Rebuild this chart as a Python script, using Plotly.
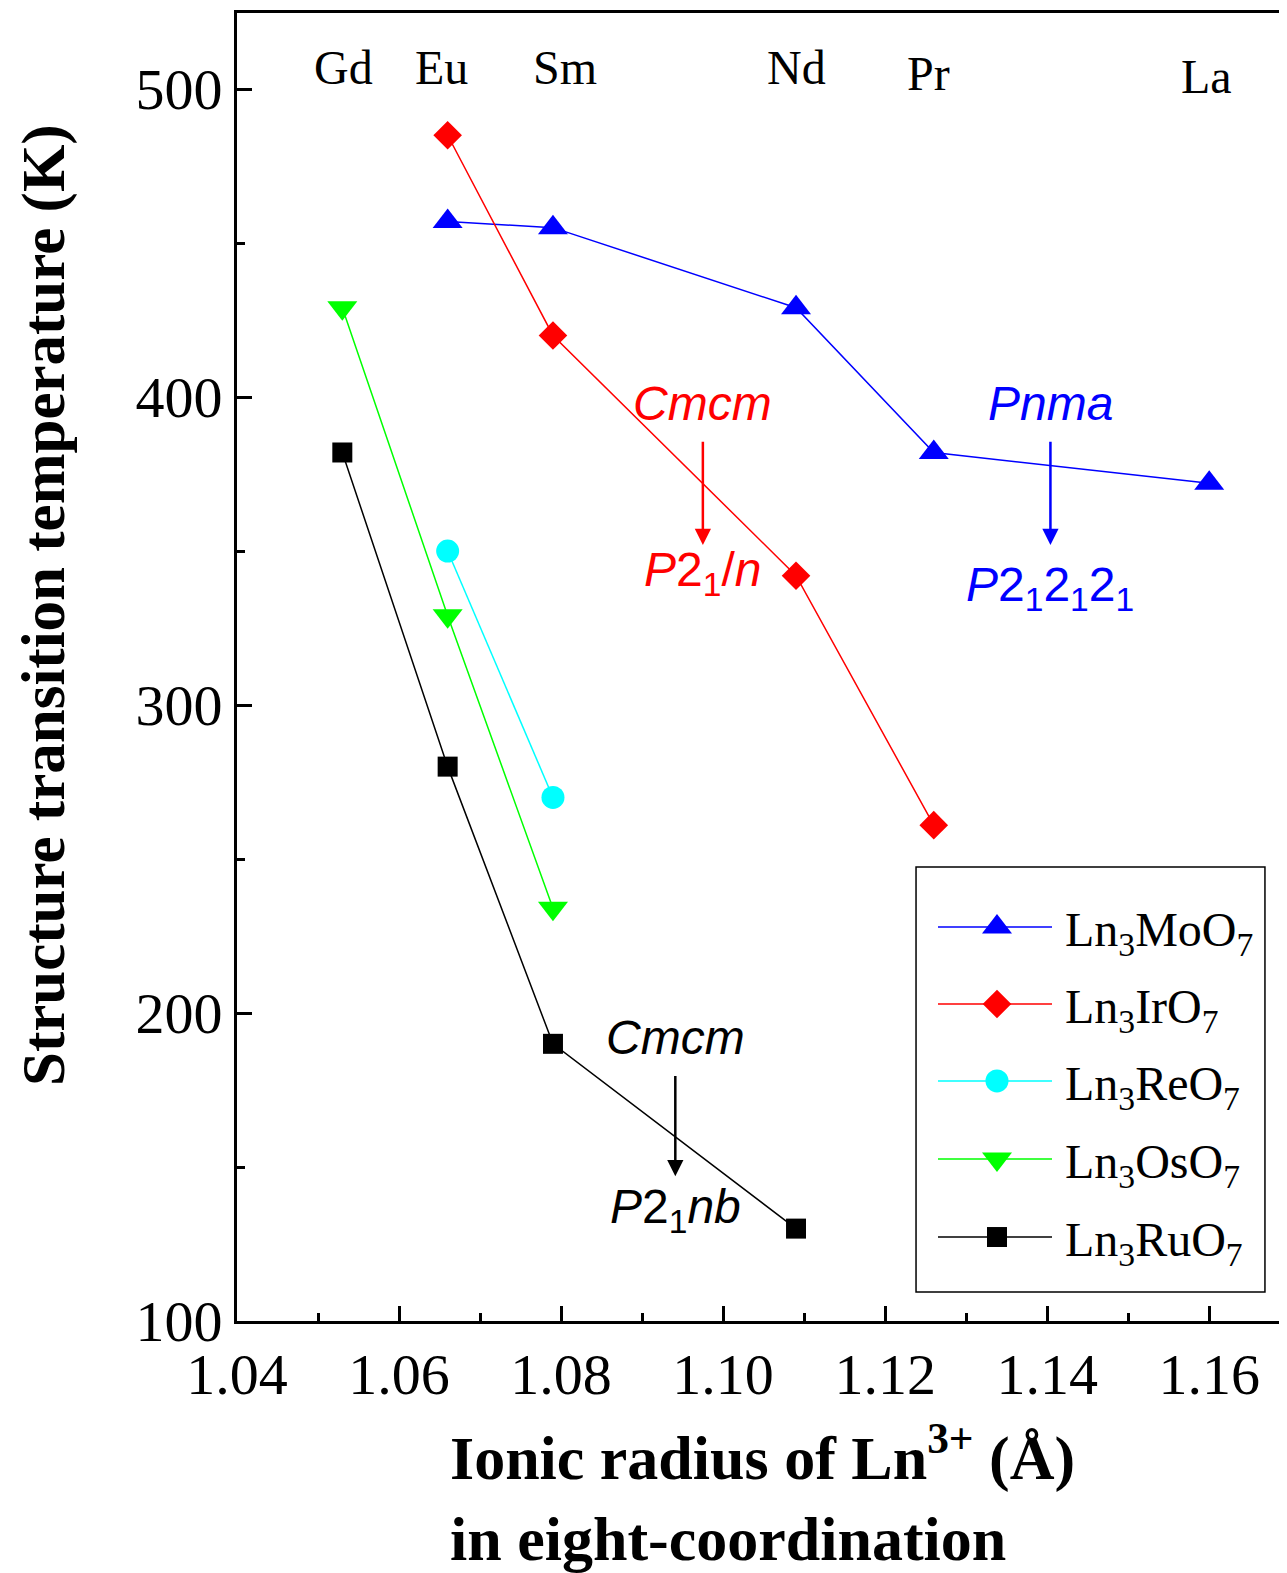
import plotly.graph_objects as go

# ---- data ----
ln_labels = ["Gd", "Eu", "Sm", "Nd", "Pr", "La"]
ln_label_x = [1.0532, 1.0653, 1.0805, 1.1091, 1.1253, 1.1597]
ln_label_y = [507, 507, 507, 507, 505, 504]

mo_x = [1.066, 1.079, 1.109, 1.126, 1.160]
mo_y = [457, 455, 429, 382, 372]

ir_x = [1.066, 1.079, 1.109, 1.126]
ir_y = [485, 420, 342, 261]

re_x = [1.066, 1.079]
re_y = [350, 270]

os_x = [1.053, 1.066, 1.079]
os_y = [429, 329, 234]

ru_x = [1.053, 1.066, 1.079, 1.109]
ru_y = [382, 280, 190, 130]

series_names = ["Ln<sub>3</sub>MoO<sub>7</sub>", "Ln<sub>3</sub>IrO<sub>7</sub>",
                "Ln<sub>3</sub>ReO<sub>7</sub>", "Ln<sub>3</sub>OsO<sub>7</sub>",
                "Ln<sub>3</sub>RuO<sub>7</sub>"]
series_x = [mo_x, ir_x, re_x, os_x, ru_x]
series_y = [mo_y, ir_y, re_y, os_y, ru_y]
series_colors = ["#0000FF", "#FF0000", "#00FFFF", "#00FF00", "#000000"]
series_symbols = ["triangle-up", "diamond", "circle", "triangle-down", "square"]
series_sizes = [26, 22, 23, 26, 20]

SERIF = "Liberation Serif"
SANS = "Liberation Sans"

fig = go.Figure()
for name, xs, ys, col, sym, sz in zip(series_names, series_x, series_y,
                                      series_colors, series_symbols, series_sizes):
    fig.add_trace(go.Scatter(
        x=xs, y=ys, mode="lines+markers", name=name, showlegend=False,
        line=dict(color=col, width=1.5),
        marker=dict(color=col, symbol=sym, size=sz, line=dict(width=0)),
    ))

# ---- hand-built legend (helper axes with range 0..1) ----
leg_box = dict(x0=0.6467, x1=0.9790, y0=0.0222, y1=0.3471)
leg_rows = [0.3012, 0.2424, 0.1835, 0.1239, 0.0642]
leg_line_x0, leg_line_x1, leg_mark_x, leg_text_x = 0.6676, 0.7762, 0.7238, 0.7867

shapes = [dict(type="rect", xref="paper", yref="paper", layer="below",
               line=dict(color="black", width=1.5), fillcolor="white", **leg_box)]
ann = []
for name, col, sym, sz, ry in zip(series_names, series_colors, series_symbols,
                                  series_sizes, leg_rows):
    shapes.append(dict(type="line", xref="paper", yref="paper",
                       x0=leg_line_x0, x1=leg_line_x1, y0=ry, y1=ry,
                       line=dict(color=col, width=1.5)))
    fig.add_trace(go.Scatter(x=[leg_mark_x], y=[ry], xaxis="x2", yaxis="y2",
                             mode="markers", showlegend=False, hoverinfo="skip",
                             marker=dict(color=col, symbol=sym, size=sz, line=dict(width=0))))
    ann.append(dict(x=leg_text_x, y=ry, xref="paper", yref="paper", text=name,
                    showarrow=False, xanchor="left", yanchor="middle", yshift=-6,
                    font=dict(family=SERIF, size=48, color="black")))

# element labels on top
for lab, xr, yl in zip(ln_labels, ln_label_x, ln_label_y):
    ann.append(dict(x=xr, y=yl, xref="x", yref="y", text=lab, showarrow=False,
                    xanchor="center", yanchor="middle",
                    font=dict(family=SERIF, size=48, color="black")))

# space-group transitions
def transition(x, y_top_text, y_from, y_to, y_bot_text, top, bottom, col):
    ann.append(dict(x=x, y=y_top_text, xref="x", yref="y", text=top, showarrow=False,
                    xanchor="center", yanchor="middle",
                    font=dict(family=SANS, size=48, color=col)))
    ann.append(dict(x=x, y=y_to, xref="x", yref="y", ax=x, ay=y_from, axref="x", ayref="y",
                    text="", showarrow=True, arrowhead=2, arrowsize=1.3, arrowwidth=2.5,
                    arrowcolor=col))
    ann.append(dict(x=x, y=y_bot_text, xref="x", yref="y", text=bottom, showarrow=False,
                    xanchor="center", yanchor="middle",
                    font=dict(family=SANS, size=48, color=col)))

transition(1.0975, 398, 386, 352, 343, "<i>Cmcm</i>", "<i>P</i>2<sub>1</sub>/<i>n</i>", "#FF0000")
transition(1.1404, 398, 386, 352, 338, "<i>Pnma</i>", "<i>P</i>2<sub>1</sub>2<sub>1</sub>2<sub>1</sub>", "#0000FF")
transition(1.0941, 192, 180, 147, 136, "<i>Cmcm</i>", "<i>P</i>2<sub>1</sub><i>nb</i>", "#000000")

# axis titles
ann.append(dict(x=-0.1838, y=0.5474, xref="paper", yref="paper", textangle=-90,
                xanchor="center", yanchor="middle",
                text="<b>Structure transition temperature (K)</b>", showarrow=False,
                font=dict(family=SERIF, size=61, color="black")))
ann.append(dict(x=0.5, y=-0.1315, xref="paper", yref="paper",
                xanchor="center", yanchor="middle",
                text="<b>Ionic radius of Ln<sup>3+</sup> (Å)<br>in eight-coordination</b>",
                showarrow=False, align="left",
                font=dict(family=SERIF, size=62, color="black")))

fig.update_layout(
    width=1279, height=1565,
    margin=dict(l=229, r=0, t=5, b=252),
    paper_bgcolor="white", plot_bgcolor="white",
    showlegend=False,
    annotations=ann,
    shapes=shapes,
    xaxis2=dict(range=[0, 1], overlaying="x", visible=False, fixedrange=True),
    yaxis2=dict(range=[0, 1], overlaying="y", visible=False, fixedrange=True),
    xaxis=dict(range=[1.04, 1.1696], showgrid=False, zeroline=False,
               showline=True, linecolor="black", linewidth=3, mirror=True,
               ticks="inside", ticklen=15, tickwidth=3, tickcolor="black",
               dtick=0.02, tick0=1.04, tickformat=".2f",
               minor=dict(ticks="inside", ticklen=8, tickwidth=3, dtick=0.01, tick0=1.04, tickcolor="black"),
               tickfont=dict(family=SERIF, size=58, color="black")),
    yaxis=dict(range=[100, 524.7], showgrid=False, zeroline=False,
               showline=True, linecolor="black", linewidth=3, mirror=False,
               ticks="inside", ticklen=15, tickwidth=3, tickcolor="black",
               dtick=100, tick0=100,
               minor=dict(ticks="inside", ticklen=8, tickwidth=3, dtick=50, tick0=100, tickcolor="black"),
               tickfont=dict(family=SERIF, size=58, color="black")),
)

fig.write_html("out.html")
